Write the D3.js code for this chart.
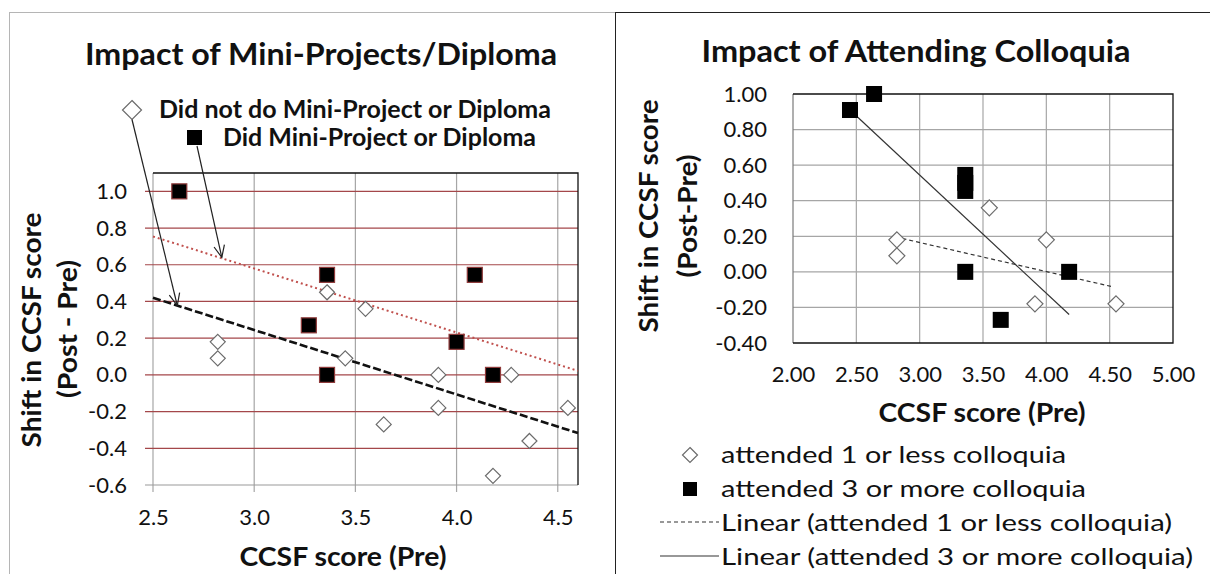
<!DOCTYPE html>
<html>
<head>
<meta charset="utf-8">
<script src="https://cdn.jsdelivr.net/npm/d3@7"></script>
<style>
  body { margin: 0; background: #fff; }
  text { font-family: Lato, 'Open Sans', sans-serif; fill: #111; }
</style>
</head>
<body>
<svg id="chart" width="1210" height="574"></svg>
<script>
// ---- left chart data: Impact of Mini-Projects/Diploma ----
let miniX = [2.63, 3.36, 3.27, 3.36, 4.09, 4.0, 4.18]
let miniY = [1.0, 0.545, 0.27, 0.0, 0.545, 0.18, 0.0]
let noMiniX = [2.82, 2.82, 3.36, 3.55, 3.45, 3.64, 3.91, 3.91, 4.27, 4.18, 4.36, 4.55]
let noMiniY = [0.18, 0.09, 0.45, 0.36, 0.09, -0.27, 0.0, -0.18, 0.0, -0.55, -0.36, -0.18]
// trend line end points
let miniTrendX = [2.5, 4.6]
let miniTrendY = [0.754, 0.022]
let noMiniTrendX = [2.5, 4.6]
let noMiniTrendY = [0.42, -0.317]
// where the legend arrows point
let arrowTipX = [2.62, 2.84]
let arrowTipY = [0.378, 0.64]
let leftXTicks = [2.5, 3.0, 3.5, 4.0, 4.5]
let leftYTicks = [-0.6, -0.4, -0.2, 0.0, 0.2, 0.4, 0.6, 0.8, 1.0]

// ---- right chart data: Impact of Attending Colloquia ----
let moreX = [2.45, 2.64, 3.36, 3.36, 3.36, 3.36, 3.64, 4.18]
let moreY = [0.91, 1.0, 0.545, 0.5, 0.455, 0.0, -0.27, 0.0]
let lessX = [2.82, 2.82, 3.55, 4.0, 3.91, 4.55]
let lessY = [0.18, 0.09, 0.36, 0.18, -0.18, -0.18]
let moreTrendX = [2.45, 4.18]
let moreTrendY = [0.91, -0.24]
let lessTrendX = [2.81, 4.53]
let lessTrendY = [0.196, -0.085]
let rightXTicks = [2.0, 2.5, 3.0, 3.5, 4.0, 4.5, 5.0]
let rightYTicks = [-0.4, -0.2, 0.0, 0.2, 0.4, 0.6, 0.8, 1.0]

let zip = (xs, ys) => xs.map((x, i) => ({ x: x, y: ys[i] }))

let svg = d3.select('svg#chart')

// panel frames
svg.append('rect').attr('x', 9.5).attr('y', 12.5).attr('width', 606).attr('height', 600)
  .attr('fill', 'none').attr('stroke', '#b5b5b5')
svg.append('rect').attr('x', 615.5).attr('y', 12.5).attr('width', 700).attr('height', 600)
  .attr('fill', 'none').attr('stroke', '#222')

// square diamond, size = width in px
function diamondPath(size) {
  let h = size / 2
  return `M0,${-h}L${h},0L0,${h}L${-h},0Z`
}

function styleTicks(sel) {
  sel.selectAll('text').attr('font-size', 22).attr('font-family', 'Lato, sans-serif').attr('fill', '#222')
}

// ================= left chart =================
let lx = d3.scaleLinear().domain([2.5, 4.6]).range([153, 578])
let ly = d3.scaleLinear().domain([-0.6, 1.1]).range([485, 173])
let left = svg.append('g')

// vertical grid (gray, running below the axis as ticks)
left.selectAll('line.vgrid').data(leftXTicks).join('line')
  .attr('x1', d => lx(d)).attr('x2', d => lx(d))
  .attr('y1', ly(1.1)).attr('y2', ly(-0.6) + 7)
  .attr('stroke', '#a6a6a6').attr('stroke-width', 1.2)

// horizontal grid (red)
left.selectAll('line.hgrid').data(leftYTicks.filter(d => d > -0.6)).join('line')
  .attr('x1', lx(2.5) - 8).attr('x2', lx(4.6))
  .attr('y1', d => ly(d)).attr('y2', d => ly(d))
  .attr('stroke', '#a4474a').attr('stroke-width', 1.2)
left.append('line')
  .attr('x1', lx(2.5) - 8).attr('x2', lx(4.6))
  .attr('y1', ly(-0.6)).attr('y2', ly(-0.6))
  .attr('stroke', '#9a9a9a').attr('stroke-width', 1.2)

// plot border top + right
left.append('path')
  .attr('d', `M${lx(2.5)},${ly(1.1)}H${lx(4.6)}V${ly(-0.6)}`)
  .attr('fill', 'none').attr('stroke', '#111').attr('stroke-width', 1.3)

// axes (labels only)
left.append('g').attr('transform', `translate(${lx(2.5)},0)`)
  .call(d3.axisLeft(ly).tickValues(leftYTicks).tickFormat(d => d.toFixed(1)).tickSize(0).tickPadding(26))
  .call(g => g.select('.domain').remove())
  .call(styleTicks)
left.append('g').attr('transform', `translate(0,${ly(-0.6)})`)
  .call(d3.axisBottom(lx).tickValues(leftXTicks).tickFormat(d => d.toFixed(1)).tickSize(0).tickPadding(24))
  .call(g => g.select('.domain').remove())
  .call(styleTicks)

// trend lines
let lineL = d3.line().x(d => lx(d.x)).y(d => ly(d.y))
left.append('path').datum(zip(miniTrendX, miniTrendY)).attr('d', lineL)
  .attr('fill', 'none').attr('stroke', '#c0504d').attr('stroke-width', 2).attr('stroke-dasharray', '2,3')
left.append('path').datum(zip(noMiniTrendX, noMiniTrendY)).attr('d', lineL)
  .attr('fill', 'none').attr('stroke', '#111').attr('stroke-width', 2.6).attr('stroke-dasharray', '8,3')

// points
left.selectAll('path.nomini').data(zip(noMiniX, noMiniY)).join('path')
  .attr('transform', d => `translate(${lx(d.x)},${ly(d.y)})`)
  .attr('d', diamondPath(15)).attr('fill', '#fff').attr('stroke', '#6b6b6b').attr('stroke-width', 1.2)
left.selectAll('rect.mini').data(zip(miniX, miniY)).join('rect')
  .attr('x', d => lx(d.x) - 7.5).attr('y', d => ly(d.y) - 7.5)
  .attr('width', 15).attr('height', 15)
  .attr('fill', '#000').attr('stroke', '#8f3a3a').attr('stroke-width', 1.2)

// title
left.append('text').attr('x', 321).attr('y', 65).attr('text-anchor', 'middle')
  .attr('font-size', 31).attr('font-weight', 'bold')
  .attr('textLength', 472).attr('lengthAdjust', 'spacingAndGlyphs')
  .text('Impact of Mini-Projects/Diploma')

// legend with arrows
left.append('path').attr('transform', 'translate(132,110)').attr('d', diamondPath(19))
  .attr('fill', '#fff').attr('stroke', '#6b6b6b').attr('stroke-width', 1.2)
left.append('text').attr('x', 159).attr('y', 118).attr('font-size', 24).attr('font-weight', 'bold')
  .attr('textLength', 392).attr('lengthAdjust', 'spacingAndGlyphs')
  .text('Did not do Mini-Project or Diploma')
left.append('rect').attr('x', 187).attr('y', 130).attr('width', 15).attr('height', 15).attr('fill', '#000')
left.append('text').attr('x', 223).attr('y', 146).attr('font-size', 24).attr('font-weight', 'bold')
  .attr('textLength', 313).attr('lengthAdjust', 'spacingAndGlyphs')
  .text('Did Mini-Project or Diploma')

let arrowStarts = [[132, 119.5], [197, 146]]
arrowStarts.forEach((s, i) => {
  let tx = lx(arrowTipX[i]), ty = ly(arrowTipY[i])
  let ang = Math.atan2(ty - s[1], tx - s[0])
  let len = 13, spread = 0.42
  left.append('line').attr('x1', s[0]).attr('y1', s[1]).attr('x2', tx).attr('y2', ty)
    .attr('stroke', '#222').attr('stroke-width', 1.2)
  left.append('path')
    .attr('d', `M${tx - len * Math.cos(ang - spread)},${ty - len * Math.sin(ang - spread)}L${tx},${ty}L${tx - len * Math.cos(ang + spread)},${ty - len * Math.sin(ang + spread)}`)
    .attr('fill', 'none').attr('stroke', '#222').attr('stroke-width', 1.2)
})

// axis titles
left.append('text').attr('x', 343).attr('y', 566).attr('text-anchor', 'middle')
  .attr('font-size', 27).attr('font-weight', 'bold')
  .attr('textLength', 207).attr('lengthAdjust', 'spacingAndGlyphs')
  .text('CCSF score (Pre)')
left.append('text').attr('transform', 'translate(41,330) rotate(-90)').attr('text-anchor', 'middle')
  .attr('font-size', 27).attr('font-weight', 'bold')
  .attr('textLength', 235).attr('lengthAdjust', 'spacingAndGlyphs')
  .text('Shift in CCSF score')
left.append('text').attr('transform', 'translate(77,329) rotate(-90)').attr('text-anchor', 'middle')
  .attr('font-size', 27).attr('font-weight', 'bold')
  .attr('textLength', 138).attr('lengthAdjust', 'spacingAndGlyphs')
  .text('(Post - Pre)')

// ================= right chart =================
let rx = d3.scaleLinear().domain([2, 5]).range([793, 1173])
let ry = d3.scaleLinear().domain([-0.4, 1.0]).range([343, 94])
let right = svg.append('g')

right.selectAll('line.vgrid').data(rightXTicks.slice(1, -1)).join('line')
  .attr('x1', d => rx(d)).attr('x2', d => rx(d))
  .attr('y1', ry(1.0)).attr('y2', ry(-0.4))
  .attr('stroke', '#a6a6a6').attr('stroke-width', 1.2)
right.selectAll('line.hgrid').data(rightYTicks.slice(1, -1)).join('line')
  .attr('x1', rx(2)).attr('x2', rx(5))
  .attr('y1', d => ry(d)).attr('y2', d => ry(d))
  .attr('stroke', '#a6a6a6').attr('stroke-width', 1.2)
right.append('line').attr('x1', rx(2)).attr('x2', rx(2)).attr('y1', ry(1.0)).attr('y2', ry(-0.4))
  .attr('stroke', '#7a7a7a').attr('stroke-width', 1.2)
right.append('path')
  .attr('d', `M${rx(2)},${ry(1.0)}H${rx(5)}V${ry(-0.4)}H${rx(2)}`)
  .attr('fill', 'none').attr('stroke', '#111').attr('stroke-width', 1.3)

right.append('g').attr('transform', `translate(${rx(2)},0)`)
  .call(d3.axisLeft(ry).tickValues(rightYTicks).tickFormat(d => d.toFixed(2)).tickSize(0).tickPadding(26))
  .call(g => g.select('.domain').remove())
  .call(styleTicks)
right.append('g').attr('transform', `translate(0,${ry(-0.4)})`)
  .call(d3.axisBottom(rx).tickValues(rightXTicks).tickFormat(d => d.toFixed(2)).tickSize(0).tickPadding(23))
  .call(g => g.select('.domain').remove())
  .call(styleTicks)

let lineR = d3.line().x(d => rx(d.x)).y(d => ry(d.y))
right.append('path').datum(zip(lessTrendX, lessTrendY)).attr('d', lineR)
  .attr('fill', 'none').attr('stroke', '#333').attr('stroke-width', 1.2).attr('stroke-dasharray', '4,3')
right.append('path').datum(zip(moreTrendX, moreTrendY)).attr('d', lineR)
  .attr('fill', 'none').attr('stroke', '#333').attr('stroke-width', 1.2)

right.selectAll('path.less').data(zip(lessX, lessY)).join('path')
  .attr('transform', d => `translate(${rx(d.x)},${ry(d.y)})`)
  .attr('d', diamondPath(16)).attr('fill', '#fff').attr('stroke', '#6b6b6b').attr('stroke-width', 1.2)
right.selectAll('rect.more').data(zip(moreX, moreY)).join('rect')
  .attr('x', d => rx(d.x) - 8).attr('y', d => ry(d.y) - 8)
  .attr('width', 16).attr('height', 16).attr('fill', '#000')

right.append('text').attr('x', 916).attr('y', 62).attr('text-anchor', 'middle')
  .attr('font-size', 30).attr('font-weight', 'bold')
  .attr('textLength', 429).attr('lengthAdjust', 'spacingAndGlyphs')
  .text('Impact of Attending Colloquia')
right.append('text').attr('x', 982).attr('y', 422).attr('text-anchor', 'middle')
  .attr('font-size', 27).attr('font-weight', 'bold')
  .attr('textLength', 207).attr('lengthAdjust', 'spacingAndGlyphs')
  .text('CCSF score (Pre)')
right.append('text').attr('transform', 'translate(658,216) rotate(-90)').attr('text-anchor', 'middle')
  .attr('font-size', 27).attr('font-weight', 'bold')
  .attr('textLength', 233).attr('lengthAdjust', 'spacingAndGlyphs')
  .text('Shift in CCSF score')
right.append('text').attr('transform', 'translate(697,216) rotate(-90)').attr('text-anchor', 'middle')
  .attr('font-size', 27).attr('font-weight', 'bold')
  .attr('textLength', 123).attr('lengthAdjust', 'spacingAndGlyphs')
  .text('(Post-Pre)')

// legend
let legendItems = [
  { label: 'attended 1 or less colloquia', kind: 'diamond', w: 345 },
  { label: 'attended 3 or more colloquia', kind: 'square', w: 365 },
  { label: 'Linear (attended 1 or less colloquia)', kind: 'dash', w: 451 },
  { label: 'Linear (attended 3 or more colloquia)', kind: 'solid', w: 472 },
]
let lg = right.append('g')
legendItems.forEach((d, i) => {
  let cy = 455 + i * 34
  if (d.kind == 'diamond') {
    lg.append('path').attr('transform', `translate(690,${cy})`).attr('d', diamondPath(15))
      .attr('fill', '#fff').attr('stroke', '#6b6b6b').attr('stroke-width', 1.2)
  } else if (d.kind == 'square') {
    lg.append('rect').attr('x', 683).attr('y', cy - 7).attr('width', 14).attr('height', 14).attr('fill', '#000')
  } else {
    lg.append('line').attr('x1', 660).attr('x2', 719).attr('y1', cy - 1).attr('y2', cy - 1)
      .attr('stroke', '#333').attr('stroke-width', 1.2)
      .attr('stroke-dasharray', d.kind == 'dash' ? '4,3' : null)
  }
  lg.append('text').attr('x', 721).attr('y', cy + 8).attr('font-size', 24)
    .attr('textLength', d.w).attr('lengthAdjust', 'spacingAndGlyphs')
    .text(d.label)
})
</script>
</body>
</html>
